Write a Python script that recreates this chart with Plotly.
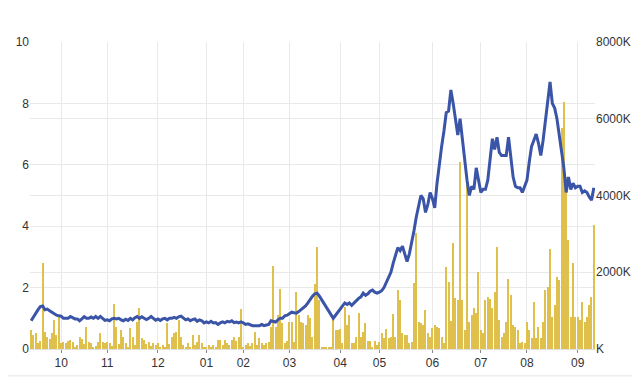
import plotly.graph_objects as go
import numpy as np

# Trading days per month (partial Sep at start, Oct ... Aug, partial Sep at end)
month_days = [13, 20, 22, 21, 16, 20, 22, 17, 23, 21, 20, 22, 8]
month_labels = ["10", "11", "12", "01", "02", "03", "04", "05", "06", "07", "08", "09"]

price = [
    # Sep
    0.92, 1.05, 1.15, 1.28, 1.38, 1.40, 1.28, 1.30, 1.25, 1.20, 1.15, 1.10, 1.08,
    # Oct
    1.07, 1.00, 1.00, 1.00, 1.06, 1.02, 0.98, 0.98, 0.92, 0.98, 1.05, 1.00, 1.00, 1.04, 1.00, 1.06, 1.00, 1.06, 1.00, 0.93,
    # Nov
    0.95, 0.92, 0.98, 1.00, 0.98, 1.00, 0.95, 0.92, 0.97, 0.93, 1.00, 0.95, 1.02, 1.06, 1.00, 1.05, 1.00, 0.96, 1.00, 1.06, 1.00, 0.94,
    # Dec
    0.98, 0.93, 0.98, 1.00, 0.95, 1.00, 1.00, 1.03, 1.00, 1.05, 1.07, 1.00, 0.95, 0.98, 0.92, 0.96, 0.98, 0.90, 0.95, 0.92, 0.85,
    # Jan
    0.88, 0.85, 0.90, 0.85, 0.86, 0.80, 0.85, 0.88, 0.85, 0.90, 0.88, 0.92, 0.86, 0.88, 0.85, 0.88,
    # Feb
    0.85, 0.80, 0.82, 0.78, 0.76, 0.76, 0.75, 0.76, 0.80, 0.76, 0.78, 0.80, 0.92, 0.90, 0.88, 0.95, 1.00, 1.00, 1.08, 1.10,
    # Mar
    1.15, 1.20, 1.18, 1.17, 1.22, 1.28, 1.33, 1.40, 1.50, 1.62, 1.72, 1.80, 1.82, 1.72, None, None, None, None, None, 1.00, 1.10, 1.20,
    # Apr
    1.30, 1.40, 1.50, 1.45, 1.50, 1.42, 1.50, 1.60, 1.65, 1.70, 1.82, 1.75, 1.80, 1.88, 1.92, 1.85, 1.82,
    # May
    1.85, 1.90, 2.00, 2.15, 2.30, 2.50, 2.80, 3.10, 3.30, 3.20, 3.35, 3.10, 2.85, 3.10, 3.45, 3.85, 4.30, 4.70, 5.00, 4.90, 4.45, 4.70, 5.10,
    # Jun
    4.90, 4.60, 5.40, 6.05, 6.60, 7.10, 7.70, 7.75, 8.44, 8.00, 7.40, 6.97, 7.50, 6.80, 6.10, 5.50, 5.00, 5.30, 5.20, 5.90, 5.50,
    # Jul
    5.10, 5.20, 5.20, 5.50, 6.20, 6.85, 6.50, 6.90, 6.40, 6.30, 6.30, 6.30, 6.90, 6.30, 5.60, 5.30, 5.25, 5.25, 5.10, 5.30,
    # Aug
    5.50, 6.10, 6.60, 6.80, 7.00, 6.70, 6.30, 6.80, 7.50, 8.10, 8.70, 8.00, 7.85, 7.50, 7.00, 6.50, 5.90, 5.10, 5.60, 5.20, 5.40, 5.25,
    # Sep
    5.30, 5.30, 5.10, 5.15, 5.10, 4.95, 4.85, 5.25,
]

volume_k = [
    # Sep
    495, 365, 425, 150, 200, 2250, 445, 310, 260, 410, 755, 365, 840,
    # Oct
    150, 170, 160, 200, 230, 180, 60, 100, 310, 260, 140, 575, 180, 150, 60, 80, 180, 420, 180, 160,
    # Nov
    180, 150, 80, 1170, 575, 120, 495, 310, 150, 60, 545, 310, 100, 710, 1060, 290, 235, 120, 180, 80, 160, 100,
    # Dec
    160, 60, 100, 50, 680, 120, 310, 420, 440, 755, 310, 100, 60, 160, 40, 365, 100, 180, 365, 160, 60,
    # Jan
    40, 100, 60, 100, 40, 235, 235, 100, 235, 160, 100, 235, 310, 200, 310, 1035,
    # Feb
    60, 100, 160, 80, 150, 445, 100, 285, 160, 100, 160, 180, 575, 2150, 575, 885, 1560, 680, 160, 200,
    # Mar
    710, 710, 180, 1490, 885, 700, 680, 625, 885, 810, 310, 1700, 2670, 1280, 30, 30, 30, 30, 30, 800, 495, 495,
    # Apr
    520, 150, 1100, 625, 885, 150, 150, 310, 940, 310, 440, 680, 200, 200, 60, 200, 100,
    # May
    180, 410, 285, 520, 285, 320, 910, 310, 1540, 1280, 410, 365, 365, 150, 180, 1710, 3020, 700, 680, 625, 1020, 420, 310,
    # Jun
    545, 625, 575, 545, 310, 150, 2140, 1740, 730, 2750, 1330, 1280, 4870, 1280, 495, 4300, 700, 885, 1070, 940, 2010,
    # Jul
    495, 420, 1280, 1360, 1300, 1070, 1490, 2670, 755, 310, 420, 700, 1820, 1410, 625, 575, 495, 150, 180, 150,
    # Aug
    700, 495, 285, 1220, 285, 575, 285, 700, 1540, 1620, 2600, 835, 1150, 1880, 1800, 5760, 6440, 4480, 2840, 835, 2240, 835,
    # Sep
    835, 755, 1220, 700, 835, 1150, 1360, 3230,
]

vol_tickvals = [0, 2000, 4000, 6000, 8000]
vol_ticktext = ["K", "2000K", "4000K", "6000K", "8000K"]
price_tickvals = [0, 2, 4, 6, 8, 10]

n = len(price)
x = list(range(n))
month_starts = list(np.cumsum(month_days)[:-1])

grid = "#e9e9e9"
tickfont = dict(family="Liberation Sans, Arial, sans-serif", size=12, color="#333333")

fig = go.Figure()
fig.add_trace(go.Bar(x=x, y=volume_k, marker=dict(color="#e0c04c", line=dict(width=0)),
                     width=0.48, yaxis="y", hoverinfo="skip"))
fig.add_trace(go.Scatter(x=x, y=price, mode="lines", connectgaps=True,
                         line=dict(color="#3a54a8", width=3), yaxis="y2"))

# The page body adds an 8px margin, so the figure is offset by 8px.
fig.update_layout(
    width=632, height=369,
    margin=dict(l=22, r=45, t=34, b=28, autoexpand=False),
    paper_bgcolor="white", plot_bgcolor="white",
    showlegend=False, bargap=0,
    xaxis=dict(range=[-0.5, n - 0.5], tickmode="array", tickvals=month_starts, ticktext=month_labels,
               showgrid=True, gridcolor=grid, gridwidth=1, zeroline=False, automargin=False,
               ticks="outside", ticklen=3, tickcolor="#888", tickfont=tickfont,
               showline=True, linecolor="#e0e0e0", linewidth=1),
    yaxis=dict(range=[0, 8000], side="right", tickmode="array", tickvals=vol_tickvals, ticktext=vol_ticktext,
               showgrid=True, gridcolor=grid, gridwidth=1, zeroline=False, tickfont=tickfont, ticks="",
               automargin=False),
    yaxis2=dict(range=[0, 10], side="left", overlaying="y", tickmode="array", tickvals=price_tickvals,
                showgrid=True, gridcolor=grid, gridwidth=1, zeroline=False, tickfont=tickfont, ticks="",
                automargin=False),
    shapes=[dict(type="line", xref="paper", yref="paper", x0=-0.1, x1=1.2, y0=-0.0875, y1=-0.0875,
                 line=dict(color="#e4e4e4", width=1))],
)

fig.write_html("out.html")
